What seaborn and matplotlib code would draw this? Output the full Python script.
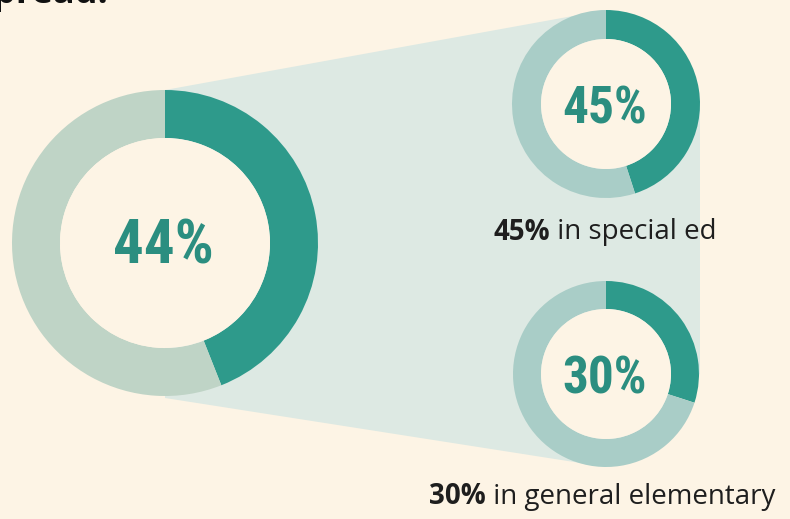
import matplotlib
matplotlib.use("Agg")
import matplotlib.pyplot as plt
from matplotlib.patches import Circle, Polygon
from matplotlib import font_manager
import seaborn as sns

# ---- data ----
categories = ["All students", "Special ed", "General elementary"]
shares = [44, 45, 30]
label_bold = ["", "45%", "30%"]
label_rest = ["", " in special ed", " in general elementary"]
title_text = "spread."

# ---- style ----
sns.set_theme(style="white")
BG = "#fdf4e5"
SHADE = "#dde9e3"
DARK = "#2e9a8b"
LIGHT_BIG = "#bfd4c6"
LIGHT_SMALL = "#a9cdc7"
NUM = "#2b8e80"
INK = "#1e1e1e"

# pick a condensed bold font if one is installed
cond = None
stretch = "normal"
names = {f.name for f in font_manager.fontManager.ttflist}
for cand in ["Liberation Sans Narrow", "Roboto Condensed", "Open Sans Condensed",
             "DejaVu Sans Condensed", "Noto Sans Condensed"]:
    if cand in names:
        cond = cand
        break
if cond is None:
    for f in font_manager.fontManager.ttflist:
        if f.stretch in ("condensed", "semi-condensed", "extra-condensed") and "Mono" not in f.name \
                and "Serif" not in f.name:
            cond = f.name
            stretch = f.stretch
            break
if cond is None:
    num_font = ["DejaVu Sans"]
    num_sizes = [34, 28, 28]
else:
    num_font = [cond, "DejaVu Sans"]
    num_sizes = [44, 37, 37]

W, H = 790, 519
fig = plt.figure(figsize=(7.9, 5.19), dpi=100, facecolor=BG)
ax = fig.add_axes([0, 0, 1, 1])
ax.set_facecolor(BG)

def Y(py):
    return H - py

# donut geometry (pixels)
centers = [(165, 243), (606, 104), (606, 374)]
outer = [153, 94, 93]
inner = [105, 65, 65]
lights = [LIGHT_BIG, LIGHT_SMALL, LIGHT_SMALL]
num_pos = [(163, 247), (605, 109), (605, 379)]

# shaded connector
poly = Polygon([(165, Y(90)), (606, Y(10)), (606, Y(104)), (700, Y(104)),
                (700, Y(374)), (606, Y(467)), (165, Y(398))],
               closed=True, facecolor=SHADE, edgecolor="none", zorder=0)
ax.add_patch(poly)

for i, cat in enumerate(categories):
    cx, cy = centers[i]
    v = shares[i]
    ax.pie([v, 100 - v], colors=[DARK, lights[i]], startangle=90,
           counterclock=False, radius=outer[i], center=(cx, Y(cy)),
           frame=True,
           wedgeprops=dict(width=outer[i] - inner[i], edgecolor="none", linewidth=0))
    ax.add_patch(Circle((cx, Y(cy)), inner[i], facecolor=BG, edgecolor="none", zorder=1))
    nx, ny = num_pos[i]
    ax.text(nx, Y(ny), f"{v}%", ha="center", va="center", color=NUM,
            fontsize=num_sizes[i], fontweight="bold", family=num_font,
            fontstretch=stretch, zorder=3)

# labels under small donuts
label_pos = [None, (604, 232), (601, 497)]
LFS = 20
for i in (1, 2):
    x, y = label_pos[i]
    full = label_bold[i] + label_rest[i]
    t = ax.text(0, 0, full, fontsize=LFS, family="Open Sans")
    fig.canvas.draw()
    bb = t.get_window_extent()
    t.remove()
    left = x - bb.width / 2
    tb = ax.text(left, Y(y), label_bold[i], ha="left", va="center",
                 fontsize=LFS, fontweight="bold", family="Open Sans", color=INK, zorder=3)
    ax.annotate(label_rest[i], xy=(1, 0.5), xycoords=tb, ha="left", va="center",
                fontsize=LFS, family="Open Sans", color=INK, zorder=3)

# cropped heading at top (cut off in the reference too)
ax.text(108, Y(3), title_text, ha="right", va="baseline", fontsize=26,
        fontweight="bold", family="Open Sans", color="#111111", zorder=3)

ax.set_xlim(0, W)
ax.set_ylim(0, H)
ax.set_aspect("equal")
ax.set_axis_off()

fig.savefig("out.png", dpi=100, facecolor=BG)
